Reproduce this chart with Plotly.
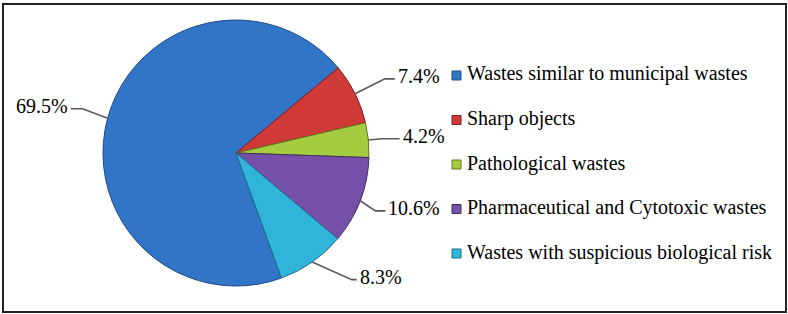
import math
import plotly.graph_objects as go

labels = ["Wastes similar to municipal wastes", "Sharp objects", "Pathological wastes",
          "Pharmaceutical and Cytotoxic wastes", "Wastes with suspicious biological risk"]
values = [69.5, 7.4, 4.2, 10.6, 8.3]
pct_text = ["69.5%", "7.4%", "4.2%", "10.6%", "8.3%"]
colors = ["#3275c6", "#cf3a36", "#a5cc40", "#7650a8", "#30b4d9"]
edge_colors = ["#1c4a86", "#7a1e1a", "#5d7a1e", "#432c66", "#1b6f88"]

# leader-line layout per label: elbow radius factor, angle offset (deg), tail length (px)
leader_r = [1.2, 1.25, 1.1, 1.135, 1.29]
leader_da = [1.0, 0.0, 0.0, 1.5, -7.5]
leader_tail = [12, 10, 18, 10, 5]

W, H = 788, 314
CX, CY, R = 236, 153, 133
ROT = 160
FONT = "Liberation Serif, Times New Roman, serif"

def px(x):
    return x / W

def py(y):
    return 1 - y / H

fig = go.Figure()
fig.add_trace(go.Pie(
    labels=labels, values=values, sort=False, direction="clockwise", rotation=ROT,
    marker=dict(colors=colors, line=dict(color=edge_colors, width=1)),
    textinfo="none", hoverinfo="label+percent", showlegend=False,
    domain=dict(x=[px(CX - R), px(CX + R)], y=[py(CY + R), py(CY - R)]),
))

shapes = []
annotations = []
total = sum(values)
cum = 0.0
for i, (v, t) in enumerate(zip(values, pct_text)):
    mid_deg = ROT + 360 * (cum + v / 2) / total
    cum += v
    mid = math.radians(mid_deg)
    s, c = math.sin(mid), math.cos(mid)
    ex, ey = CX + R * s, CY - R * c
    ea = math.radians(mid_deg + leader_da[i])
    bx = CX + R * leader_r[i] * math.sin(ea)
    by = CY - R * leader_r[i] * math.cos(ea)
    side = 1 if s >= 0 else -1
    hx = bx + side * leader_tail[i]
    shapes.append(dict(type="path", xref="paper", yref="paper",
                       path=f"M {px(ex)},{py(ey)} L {px(bx)},{py(by)} L {px(hx)},{py(by)}",
                       line=dict(color="#5a5a5a", width=1.6)))
    annotations.append(dict(x=px(hx + side * 1), y=py(by - 3), xref="paper", yref="paper",
                            text=t, showarrow=False,
                            xanchor="left" if side > 0 else "right", yanchor="middle",
                            font=dict(family=FONT, size=20, color="#000")))

# manual legend
LX, LY0, DY = 452, 74, 44.5
for i, (lab, col, ec) in enumerate(zip(labels, colors, edge_colors)):
    y = LY0 + i * DY
    shapes.append(dict(type="rect", xref="paper", yref="paper",
                       x0=px(LX), x1=px(LX + 9), y0=py(y + 6), y1=py(y - 3),
                       fillcolor=col, line=dict(color=ec, width=1)))
    annotations.append(dict(x=px(LX + 13), y=py(y), xref="paper", yref="paper",
                            text=lab, showarrow=False, xanchor="left", yanchor="middle",
                            font=dict(family=FONT, size=20, color="#000")))

# frame
shapes.append(dict(type="rect", xref="paper", yref="paper",
                   x0=px(3), x1=px(786), y0=py(312), y1=py(4),
                   line=dict(color="#222", width=2)))

fig.update_layout(width=W, height=H, margin=dict(l=0, r=0, t=0, b=0),
                  paper_bgcolor="white", plot_bgcolor="white",
                  font=dict(family=FONT),
                  shapes=shapes, annotations=annotations)
fig.write_html("out.html", config={"displayModeBar": False},
               post_script="document.body.style.margin='0';")
